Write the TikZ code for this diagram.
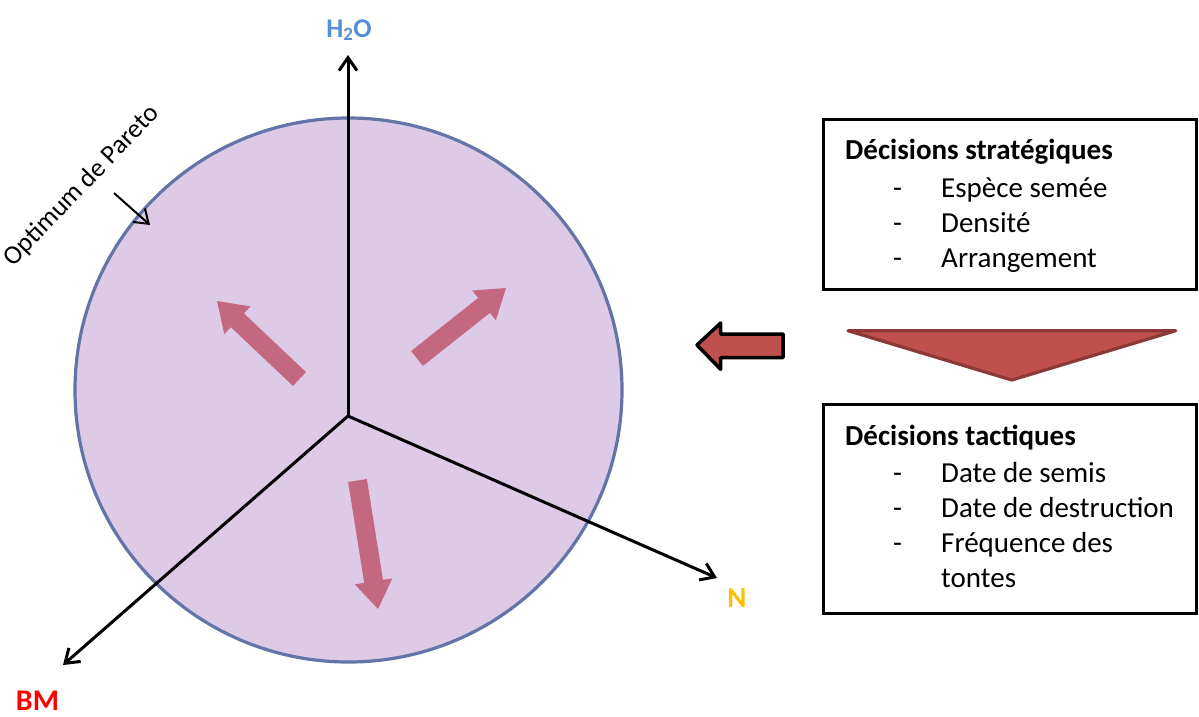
\documentclass[tikz,border=0pt]{standalone}
\usepackage{fontspec}
\setmainfont{Carlito}
\usetikzlibrary{arrows.meta,calc}
\definecolor{lav}{RGB}{220,202,230}
\definecolor{lavedge}{RGB}{100,116,166}
\definecolor{pinkar}{RGB}{196,104,130}
\definecolor{redar}{RGB}{192,80,77}
\definecolor{redaredge}{RGB}{140,56,54}
\definecolor{h2oblue}{RGB}{85,142,213}
\definecolor{nyellow}{RGB}{255,192,0}
\newcommand{\pinkblockarrow}[2]{%
  \fill[pinkar]
    ($(#1)!9.5pt!90:(#2)$) --
    ($($(#2)!28pt!(#1)$)!9.5pt!-90:(#1)$) --
    ($($(#2)!28pt!(#1)$)!19pt!-90:(#1)$) --
    (#2) --
    ($($(#2)!28pt!(#1)$)!19pt!90:(#1)$) --
    ($($(#2)!28pt!(#1)$)!9.5pt!90:(#1)$) --
    ($(#1)!9.5pt!-90:(#2)$) -- cycle;}
\tikzset{
  axisline/.style={line width=3pt,-{Straight Barb[length=13pt,width=18pt]}},
  boxframe/.style={draw,line width=3pt},
  txt/.style={anchor=base west,inner sep=0pt,font=\fontsize{29}{35}\selectfont},
}
\begin{document}
\begin{tikzpicture}[x=1pt,y=-1pt]
\useasboundingbox (0,0) rectangle (1199,716);
% Pareto disc
\draw[fill=lav,draw=lavedge,line width=3.2pt] (348.5,390) ellipse [x radius=273.5pt,y radius=272pt];
% axes
\coordinate (O) at (348,416);
\coordinate (Htip) at (348,55);
\coordinate (Btip) at (63,665);
\coordinate (Ntip) at (717,578);
\draw[axisline] (O) -- (Htip);
\draw[axisline] (O) -- (Btip);
\draw[axisline] (O) -- (Ntip);
\node[anchor=base,inner sep=0pt,text=h2oblue,font=\fontsize{27}{30}\selectfont\bfseries] (h2o) at (349,37) {H\textsubscript{2}O};
\node[anchor=base,inner sep=0pt,text=red,font=\fontsize{30}{34}\selectfont\bfseries] (bm) at (37.5,710) {BM};
\node[anchor=base,inner sep=0pt,text=nyellow,font=\fontsize{29}{34}\selectfont\bfseries] (n) at (737,607) {N};
% pink arrows
\coordinate (a1s) at (299.5,379); \coordinate (a1e) at (217,301);
\coordinate (a2s) at (417,358.5); \coordinate (a2e) at (506,288);
\coordinate (a3s) at (357.5,480.5); \coordinate (a3e) at (378,609);
\pinkblockarrow{a1s}{a1e}
\pinkblockarrow{a2s}{a2e}
\pinkblockarrow{a3s}{a3e}
% Pareto label
\node[rotate=46,anchor=center,inner sep=0pt,font=\fontsize{26.5}{30}\selectfont] (pareto) at (82,186) {Optimum de Pareto};
\coordinate (ps) at (114,193); \coordinate (pe) at (150,225);
\draw[line width=2pt,-{Straight Barb[length=13pt,width=18pt]}] (ps) -- (pe);
% left block arrow
\draw[fill=redar,line width=3.5pt,line join=round] (697,345) -- (720.7,323) -- (720.7,334) -- (783,334) -- (783,357.7) -- (720.7,357.7) -- (720.7,369.3) -- cycle;
% triangle
\draw[fill=redar,draw=redaredge,line width=3.2pt,line join=round] (848,330.7) -- (1175.7,330.7) -- (1011.7,380) -- cycle;
% boxes
\node[boxframe,minimum width=373pt,minimum height=170pt,anchor=north west,inner sep=0pt] (box1) at (822,118) {};
\node[boxframe,minimum width=373pt,minimum height=209pt,anchor=north west,inner sep=0pt] (box2) at (822,403) {};
\node[txt,font=\fontsize{29}{35}\selectfont\bfseries] (t1) at (845,159) {Décisions stratégiques};
\node[txt] (d11) at (893,197) {-}; \node[txt] (i11) at (941,197) {Espèce semée};
\node[txt] (d12) at (893,232) {-}; \node[txt] (i12) at (941,232) {Densité};
\node[txt] (d13) at (893,267) {-}; \node[txt] (i13) at (941,267) {Arrangement};
\node[txt,font=\fontsize{29}{35}\selectfont\bfseries] (t2) at (845,445) {Décisions tactiques};
\node[txt] (d21) at (893,482) {-}; \node[txt] (i21) at (941,482) {Date de semis};
\node[txt] (d22) at (893,517) {-}; \node[txt] (i22) at (941,517) {Date de destruction};
\node[txt] (d23) at (893,552) {-}; \node[txt] (i23) at (941,552) {Fréquence des};
\node[txt] (i24) at (941,587) {tontes};
\end{tikzpicture}
\end{document}
